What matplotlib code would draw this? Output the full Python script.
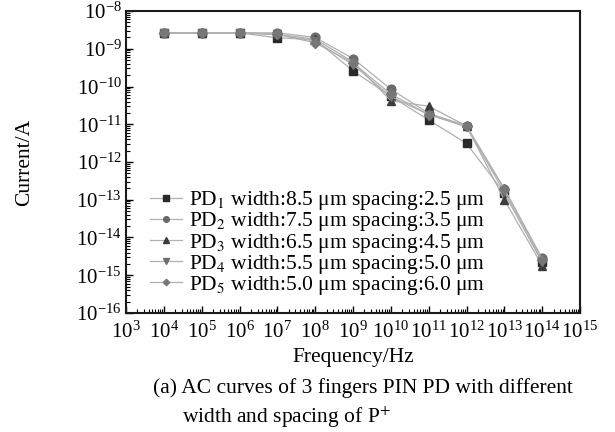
import numpy as np
import matplotlib
matplotlib.use("Agg")
import matplotlib.pyplot as plt
from matplotlib.ticker import LogLocator, NullFormatter

plt.rcParams["font.family"] = ["Liberation Serif", "DejaVu Serif"]
plt.rcParams["mathtext.fontset"] = "stix"

# ── 데이터 ────────────────────────────────────────────────
freq = [1e4, 1e5, 1e6, 1e7, 1e8, 1e9, 1e10, 1e11, 1e12, 1e13, 1e14]
pd1 = [2.64e-9, 2.64e-9, 2.64e-9, 1.95e-9, 1.74e-9, 2.6e-10, 5.5e-11, 1.3e-11, 3.1e-12, 1.5e-13, 2.2e-15]
pd2 = [2.64e-9, 2.64e-9, 2.64e-9, 2.64e-9, 2.0e-9, 5.5e-10, 8.5e-11, 1.95e-11, 9.1e-12, 1.95e-13, 2.8e-15]
pd3 = [2.64e-9, 2.64e-9, 2.64e-9, 2.4e-9, 1.8e-9, 4.5e-10, 4.2e-11, 3.0e-11, 9.0e-12, 1.0e-13, 1.8e-15]
pd4 = [2.64e-9, 2.64e-9, 2.64e-9, 2.4e-9, 1.6e-9, 3.8e-10, 5.4e-11, 1.8e-11, 8.5e-12, 1.6e-13, 2.2e-15]
pd5 = [2.64e-9, 2.64e-9, 2.64e-9, 2.4e-9, 1.44e-9, 4.2e-10, 6.3e-11, 1.8e-11, 9.0e-12, 1.9e-13, 2.6e-15]
labels = [
    "PD$_1$ width:8.5 μm spacing:2.5 μm",
    "PD$_2$ width:7.5 μm spacing:3.5 μm",
    "PD$_3$ width:6.5 μm spacing:4.5 μm",
    "PD$_4$ width:5.5 μm spacing:5.0 μm",
    "PD$_5$ width:5.0 μm spacing:6.0 μm",
]

# ── 스타일 ────────────────────────────────────────────────
markers = ["s", "o", "^", "v", "D"]
mcolors = ["#2a2a2a", "#6a6a6a", "#3c3c3c", "#6e6e6e", "#777777"]
msizes = [5.8, 6.3, 6.3, 6.3, 5.0]
FS = 15.5

fig = plt.figure(figsize=(6.15, 4.32), dpi=100)
ax = fig.add_axes([0.2049, 0.2755, 0.7382, 0.6990])

for ys, lab, m, c, s in zip([pd1, pd2, pd3, pd4, pd5], labels, markers, mcolors, msizes):
    ax.plot(freq, ys, color="#b0b0b0", lw=0.9, marker=m, ms=s,
            markerfacecolor=c, markeredgecolor=c, label=lab)

ax.set_xscale("log")
ax.set_yscale("log")
ax.set_xlim(1e3, 1e15)
ax.set_ylim(1e-16, 1e-8)
ax.set_xticks(10.0 ** np.arange(3, 16))
ax.set_yticks(10.0 ** np.arange(-16, -7))
ax.xaxis.set_minor_locator(LogLocator(base=10, subs=np.arange(2, 10), numticks=100))
ax.yaxis.set_minor_locator(LogLocator(base=10, subs=np.arange(2, 10), numticks=100))
ax.xaxis.set_minor_formatter(NullFormatter())
ax.yaxis.set_minor_formatter(NullFormatter())
ax.tick_params(which="both", direction="in", top=False, right=False, labelsize=15)
ax.tick_params(which="major", length=5, width=1.0)
ax.tick_params(which="minor", length=3, width=0.8)
ax.tick_params(axis="x", pad=6)
ax.tick_params(axis="y", pad=3)
for sp in ax.spines.values():
    sp.set_linewidth(1.5)
    sp.set_color("#1a1a1a")

ax.set_xlabel("Frequency/Hz", fontsize=FS, labelpad=4)
ax.set_ylabel("Current/A", fontsize=FS)
ax.yaxis.set_label_coords(-0.203, 0.5)

ax.legend(loc="lower left", bbox_to_anchor=(0.01, -0.01), frameon=False, fontsize=FS,
          handlelength=1.5, handletextpad=0.3, labelspacing=-0.09, borderaxespad=0.5,
          markerscale=0.65)

fig.text(0.249, 0.101, "(a) AC curves of 3 fingers PIN PD with different",
         fontsize=FS, ha="left", va="center")
fig.text(0.296, 0.033, "width and spacing of P$^{+}$",
         fontsize=FS, ha="left", va="center")

fig.savefig("out.png", dpi=100, facecolor="white")
